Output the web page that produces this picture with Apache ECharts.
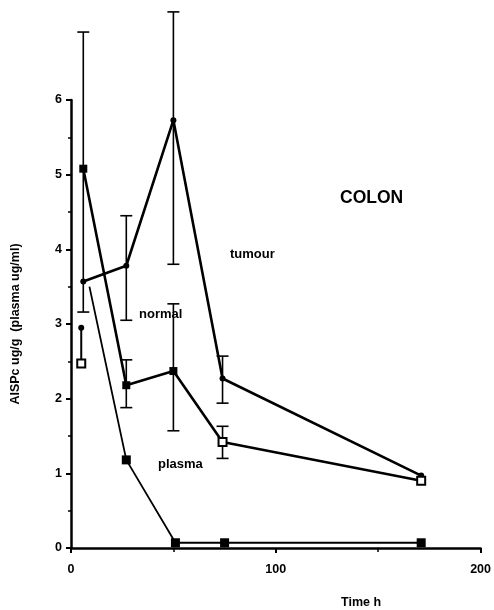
<!DOCTYPE html>
<html>
<head>
<meta charset="utf-8">
<script src="https://cdn.jsdelivr.net/npm/echarts@6/dist/echarts.min.js"></script>
<style>
  html, body { margin: 0; padding: 0; background: #fff; }
  #chart { width: 494px; height: 610px; }
</style>
</head>
<body>
<div id="chart"></div>
<script>
// sampling times (h)
const times = [6, 27, 50, 74, 171];
const tumour = [3.57, 3.78, 5.73, 2.27, 0.97];
const tumourLow = [3.16, 3.05, 3.8, 1.94, null];
const tumourHigh = [6.91, 4.45, 7.18, 2.57, null];
const normal = [5.08, 2.18, 2.37, 1.42, 0.9];
const normalLow = [null, 1.88, 1.57, 1.2, null];
const normalHigh = [null, 2.52, 3.27, 1.63, null];
const normalOpen = [false, false, false, true, true];
const plasmaTimes = [9, 27, 51, 75, 171];
const plasma = [3.5, 1.18, 0.07, 0.07, 0.07];
// the extra early readings at the first time point
const earlyTimes = [5, 5];
const earlyValues = [2.95, 2.47];
const xTicks = [0, 100, 200];
const yTicks = [0, 1, 2, 3, 4, 5, 6];

const chart = echarts.init(document.getElementById('chart'));
const font = 'Liberation Sans, Arial, sans-serif';

function errData(low, high) {
  const out = [];
  times.forEach((t, i) => {
    if (low[i] != null) out.push([t, low[i], high[i]]);
  });
  return out;
}

function renderErr(params, api) {
  const lo = api.coord([api.value(0), api.value(1)]);
  const hi = api.coord([api.value(0), api.value(2)]);
  const w = 6;
  const style = { stroke: '#000', lineWidth: 1.6 };
  return {
    type: 'group',
    children: [
      { type: 'line', shape: { x1: lo[0], y1: lo[1], x2: hi[0], y2: hi[1] }, style },
      { type: 'line', shape: { x1: lo[0] - w, y1: lo[1], x2: lo[0] + w, y2: lo[1] }, style },
      { type: 'line', shape: { x1: hi[0] - w, y1: hi[1], x2: hi[0] + w, y2: hi[1] }, style }
    ]
  };
}

const option = {
  animation: false,
  grid: { left: 71, right: 11, top: 100, bottom: 62 },
  xAxis: {
    type: 'value',
    min: 0,
    max: 200,
    interval: 100,
    axisLine: { lineStyle: { color: '#000', width: 2.5 } },
    axisTick: { show: true, inside: false, length: 5, lineStyle: { color: '#000', width: 2 } },
    minorTick: { show: true, splitNumber: 2, length: 4, lineStyle: { color: '#000', width: 1.5 } },
    splitLine: { show: false },
    axisLabel: {
      color: '#000', fontFamily: font, fontWeight: 'bold', fontSize: 12.5, margin: 15,
      formatter: v => xTicks.includes(v) ? String(v) : ''
    }
  },
  yAxis: {
    type: 'value',
    min: 0,
    max: 6,
    interval: 1,
    name: 'AISPc ug/g  (plasma ug/ml)',
    nameLocation: 'middle',
    nameRotate: 90,
    nameGap: 49,
    nameTextStyle: { color: '#000', fontFamily: font, fontWeight: 'bold', fontSize: 12.5 },
    axisLine: { show: true, lineStyle: { color: '#000', width: 2.5 } },
    axisTick: { show: true, length: 5, lineStyle: { color: '#000', width: 2 } },
    minorTick: { show: true, splitNumber: 2, length: 3, lineStyle: { color: '#000', width: 1.5 } },
    splitLine: { show: false },
    axisLabel: {
      color: '#000', fontFamily: font, fontWeight: 'bold', fontSize: 12.5, margin: 9,
      formatter: v => yTicks.includes(v) ? String(v) : ''
    }
  },
  series: [
    {
      name: 'tumour',
      type: 'line',
      data: times.map((t, i) => [t, tumour[i]]),
      symbol: 'circle',
      symbolSize: 6,
      lineStyle: { color: '#000', width: 2.6 },
      itemStyle: { color: '#000' },
      z: 3
    },
    {
      name: 'normal',
      type: 'line',
      data: times.map((t, i) => ({
        value: [t, normal[i]],
        itemStyle: normalOpen[i]
          ? { color: '#fff', borderColor: '#000', borderWidth: 2 }
          : { color: '#000' }
      })),
      symbol: 'rect',
      symbolSize: 8,
      lineStyle: { color: '#000', width: 2.6 },
      z: 3
    },
    {
      name: 'plasma',
      type: 'line',
      data: plasmaTimes.map((t, i) => ({
        value: [t, plasma[i]],
        symbol: i === 0 ? 'none' : 'rect'
      })),
      symbolSize: 9,
      lineStyle: { color: '#000', width: 1.8 },
      itemStyle: { color: '#000' },
      z: 3
    },
    {
      name: 'early',
      type: 'line',
      data: earlyTimes.map((t, i) => ({
        value: [t, earlyValues[i]],
        symbol: i === 0 ? 'circle' : 'rect',
        symbolSize: i === 0 ? 6 : 8,
        itemStyle: i === 0
          ? { color: '#000' }
          : { color: '#fff', borderColor: '#000', borderWidth: 2 }
      })),
      lineStyle: { color: '#000', width: 2 },
      z: 3
    },
    {
      type: 'custom',
      renderItem: renderErr,
      data: errData(tumourLow, tumourHigh),
      clip: false,
      z: 2
    },
    {
      type: 'custom',
      renderItem: renderErr,
      data: errData(normalLow, normalHigh),
      clip: false,
      z: 2
    }
  ],
  graphic: [
    { type: 'text', left: 340, top: 189, style: { text: 'COLON', font: 'bold 17.5px ' + font, fill: '#000' } },
    { type: 'text', left: 230, top: 248, style: { text: 'tumour', font: 'bold 13px ' + font, fill: '#000' } },
    { type: 'text', left: 139, top: 308, style: { text: 'normal', font: 'bold 13px ' + font, fill: '#000' } },
    { type: 'text', left: 158, top: 458, style: { text: 'plasma', font: 'bold 13px ' + font, fill: '#000' } },
    { type: 'text', left: 341, top: 596, style: { text: 'Time h', font: 'bold 12.5px ' + font, fill: '#000' } }
  ]
};

chart.setOption(option);
</script>
</body>
</html>
